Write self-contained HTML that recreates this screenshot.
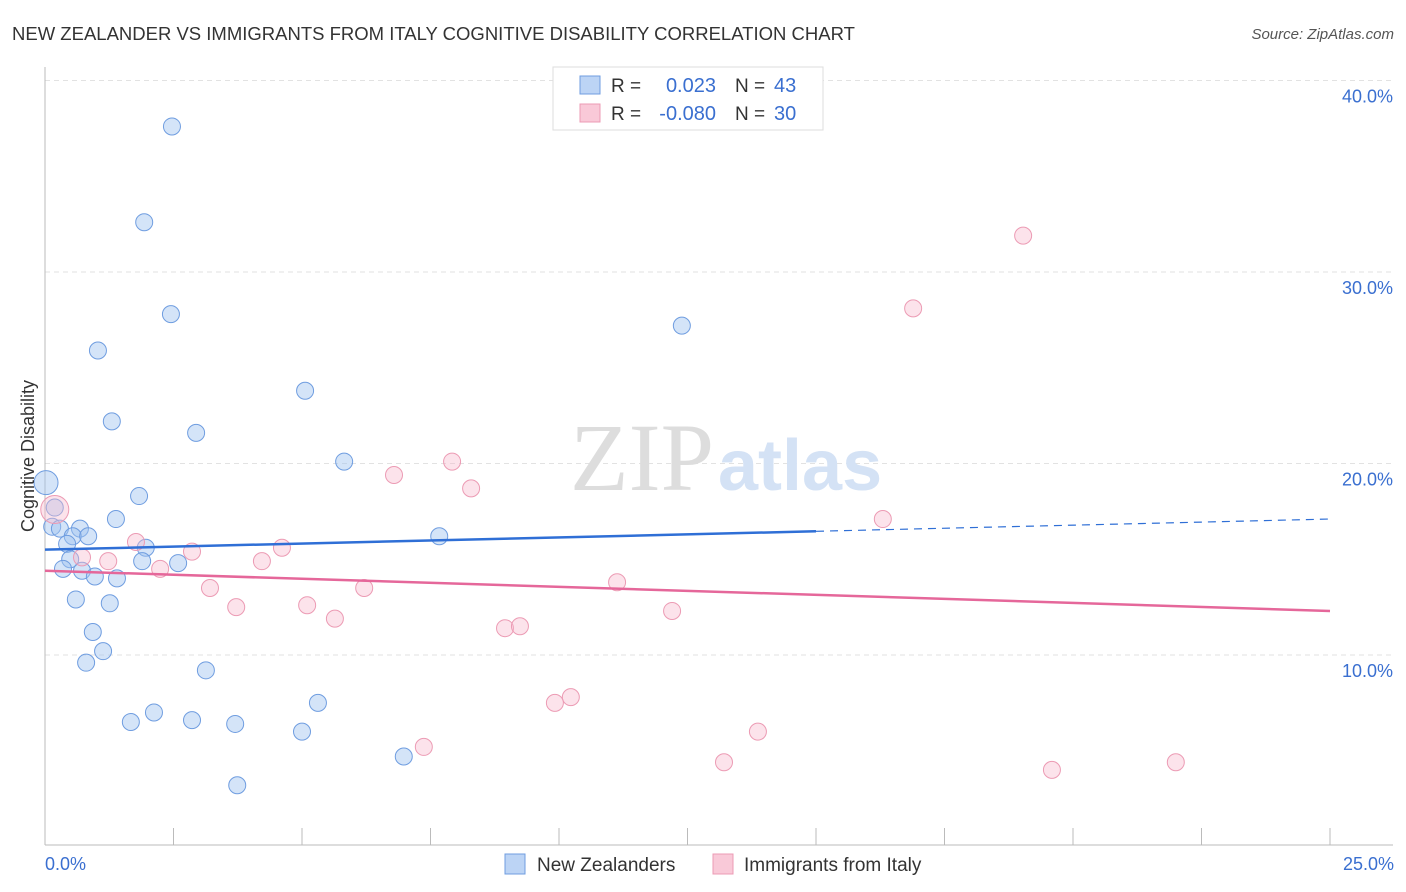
<!DOCTYPE html>
<html><head><meta charset="utf-8"><style>
body{margin:0;background:#fff;font-family:"Liberation Sans",sans-serif;}
svg{display:block}
</style></head><body>
<svg id="chart" width="1406" height="892">
<text x="12" y="40" font-size="18.5" fill="#333">NEW ZEALANDER VS IMMIGRANTS FROM ITALY COGNITIVE DISABILITY CORRELATION CHART</text>
<text x="1394" y="39" font-size="15" fill="#555" text-anchor="end" font-style="italic">Source: ZipAtlas.com</text>
<g id="grid"></g>
<text x="714" y="490" font-size="96" fill="#ddd" text-anchor="end" font-family="Liberation Serif">ZIP</text>
<text x="718" y="490" font-size="72" fill="#d4e2f5" font-weight="bold">atlas</text>
<g id="points"></g>
<g id="trends"></g>
<text transform="translate(34,456) rotate(-90)" font-size="18" fill="#333" text-anchor="middle">Cognitive Disability</text>
<text x="45" y="870" font-size="18" fill="#3a6fd0">0.0%</text>
<text x="1394" y="870" font-size="18" fill="#3a6fd0" text-anchor="end">25.0%</text>
<g>
<rect x="553" y="67" width="270" height="63" fill="#fff" stroke="#ddd"/>
<rect x="580" y="76" width="20" height="18" fill="#bcd4f5" stroke="#6f9de0"/>
<rect x="580" y="104" width="20" height="18" fill="#f9c9d8" stroke="#ec9bb4"/>
<text x="611" y="92" font-size="19" fill="#333">R =</text><text x="716" y="92" font-size="20" fill="#3a6fd0" text-anchor="end">0.023</text>
<text x="735" y="92" font-size="19" fill="#333">N =</text><text x="774" y="92" font-size="20" fill="#3a6fd0">43</text>
<text x="611" y="120" font-size="19" fill="#333">R =</text><text x="716" y="120" font-size="20" fill="#3a6fd0" text-anchor="end">-0.080</text>
<text x="735" y="120" font-size="19" fill="#333">N =</text><text x="774" y="120" font-size="20" fill="#3a6fd0">30</text>
</g>
<g>
<rect x="505" y="854" width="20" height="20" fill="#bcd4f5" stroke="#6f9de0"/>
<text x="537" y="871" font-size="19" fill="#333">New Zealanders</text>
<rect x="713" y="854" width="20" height="20" fill="#f9c9d8" stroke="#ec9bb4"/>
<text x="744" y="871" font-size="19" fill="#333">Immigrants from Italy</text>
</g>
</svg>
<script>
const yTicks=[10,20,30,40];
const xTicks=[0,2.5,5,7.5,10,12.5,15,17.5,20,22.5,25];
const blueX=[2.47,1.93,2.45,1.03,5.06,1.30,2.94,12.39,5.82,0.02,1.83,0.19,1.38,0.14,0.29,0.68,0.54,0.84,0.43,1.96,7.67,0.49,1.89,2.59,0.35,0.72,0.97,1.40,0.60,1.26,0.93,1.13,0.80,3.13,5.31,2.12,1.67,2.86,3.70,5.00,6.98,3.74];
const blueY=[37.6,32.6,27.8,25.9,23.8,22.2,21.6,27.2,20.1,19.0,18.3,17.7,17.1,16.7,16.6,16.6,16.2,16.2,15.8,15.6,16.2,15.0,14.9,14.8,14.5,14.4,14.1,14.0,12.9,12.7,11.2,10.2,9.6,9.2,7.5,7.0,6.5,6.6,6.4,6.0,4.7,3.2];
const pinkX=[19.03,16.89,7.92,6.79,8.29,16.30,0.19,1.77,2.86,4.61,0.72,1.23,4.22,2.24,11.13,3.21,6.21,3.72,5.10,12.20,5.64,8.95,9.24,10.23,9.92,7.37,13.87,13.21,19.59,22.0];
const pinkY=[31.9,28.1,20.1,19.4,18.7,17.1,17.6,15.9,15.4,15.6,15.1,14.9,14.9,14.5,13.8,13.5,13.5,12.5,12.6,12.3,11.9,11.4,11.5,7.8,7.5,5.2,6.0,4.4,4.0,4.4];
const blueTrend=[15.5,17.1];
const pinkTrend=[14.4,12.3];
const NS='http://www.w3.org/2000/svg';
const sx=v=>45+v*51.4, sy=v=>846.5-v*19.15;
function mk(t,a,p){const e=document.createElementNS(NS,t);for(const k in a)e.setAttribute(k,a[k]);p.appendChild(e);return e;}
const grid=document.getElementById('grid');
yTicks.forEach(t=>{
 const l=mk('line',{x1:45,x2:1393,y1:sy(t),y2:sy(t),stroke:'#e2e2e2','stroke-dasharray':'5,4'},grid);
 
 
 const tx=mk('text',{x:1393,y:sy(t)+22,'font-size':18,fill:'#3a6fd0','text-anchor':'end'},grid);
 tx.textContent=t.toFixed(1)+'%';
 
 
});
const ax=mk('line',{x1:45,x2:1393,y1:845,y2:845,stroke:'#bbb'},grid);


const ay=mk('line',{x1:45,x2:45,y1:67,y2:845,stroke:'#bbb'},grid);


xTicks.forEach(t=>{const l=mk('line',{x1:sx(t),x2:sx(t),y1:828,y2:845,stroke:'#bbb'},grid);
 
 });
const pts=document.getElementById('points');
blueX.forEach((x,i)=>{const c=mk('circle',{cx:sx(x),cy:sy(blueY[i]),r:i==9?12:8.5,fill:'rgba(160,195,240,0.45)',stroke:'#6f9de0','stroke-width':1},pts);
 
 });
pinkX.forEach((x,i)=>{const c=mk('circle',{cx:sx(x),cy:sy(pinkY[i]),r:i==6?14:8.5,fill:'rgba(248,185,205,0.4)',stroke:'#ec9bb4','stroke-width':1},pts);
 
 });
const tr=document.getElementById('trends');
const bAt=x=>blueTrend[0]+(blueTrend[1]-blueTrend[0])*x/25;
const b1=mk('line',{x1:sx(0),y1:sy(bAt(0)),x2:sx(15),y2:sy(bAt(15)),stroke:'#2f6fd6','stroke-width':2.5},tr);


const b2=mk('line',{x1:sx(15),y1:sy(bAt(15)),x2:sx(25),y2:sy(bAt(25)),stroke:'#2f6fd6','stroke-width':1.2,'stroke-dasharray':'8,6'},tr);


const p1=mk('line',{x1:sx(0),y1:sy(pinkTrend[0]),x2:sx(25),y2:sy(pinkTrend[1]),stroke:'#e5679a','stroke-width':2.5},tr);


</script>
</body></html>
